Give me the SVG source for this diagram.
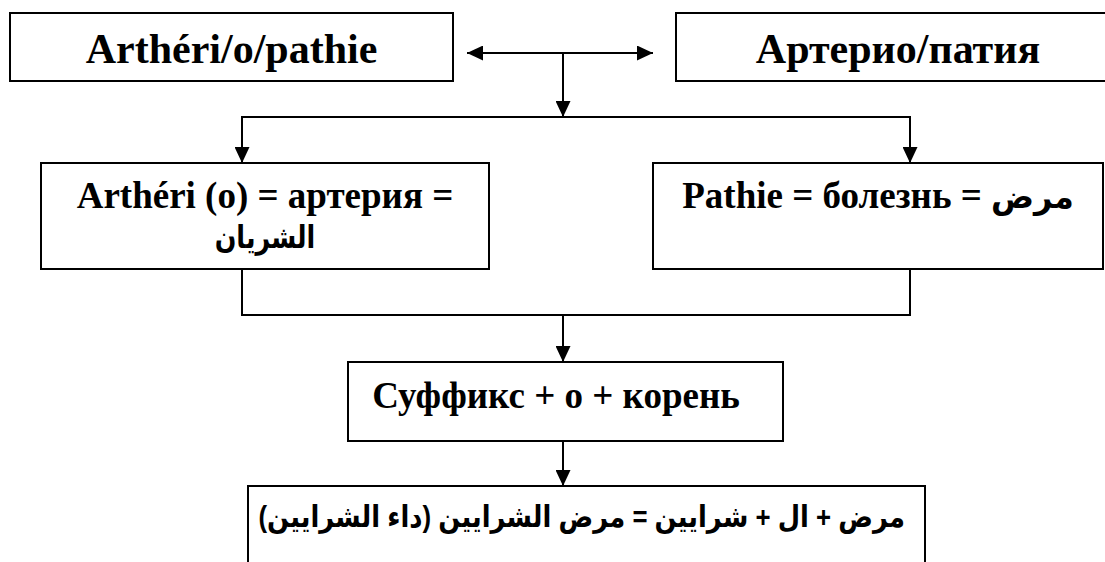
<svg xmlns="http://www.w3.org/2000/svg" width="1105" height="562" viewBox="0 0 1105 562">
  <style>
    .box { fill: #ffffff; stroke: #000000; stroke-width: 2; }
    .conn { fill: none; stroke: #000000; stroke-width: 2; }
    .t { font-family: "Liberation Serif", "DejaVu Sans", serif; font-weight: bold; fill: #000000; text-anchor: middle; }
    .ar { font-family: "Liberation Sans", "DejaVu Sans", sans-serif; font-weight: bold; fill: #000000; }
  </style>
  <defs>
    <marker id="ah" markerUnits="userSpaceOnUse" markerWidth="16" markerHeight="15" refX="16" refY="7.5" orient="auto-start-reverse">
      <path d="M0,0 L16,7.5 L0,15 z" fill="#000000"/>
    </marker>
  </defs>
  <rect width="1105" height="562" fill="#ffffff"/>

  <g id="connectors">
    <path class="conn" d="M467,53 H653" marker-start="url(#ah)" marker-end="url(#ah)"/>
    <path class="conn" d="M563,53 V117" marker-end="url(#ah)"/>
    <path class="conn" d="M563,117 H242 V163" marker-end="url(#ah)"/>
    <path class="conn" d="M563,117 H910 V163" marker-end="url(#ah)"/>
    <path class="conn" d="M242,269 V315 H910 V269"/>
    <path class="conn" d="M563,315 V362" marker-end="url(#ah)"/>
    <path class="conn" d="M563,441 V486" marker-end="url(#ah)"/>
  </g>

  <g id="node-arterio-fr">
    <rect class="box" x="10" y="13" width="443" height="68"/>
    <text class="t" x="231.5" y="63" font-size="42">Arthéri/o/pathie</text>
  </g>

  <g id="node-arterio-ru">
    <rect class="box" x="676" y="13" width="450" height="68"/>
    <text class="t" x="898" y="63" font-size="42">Артерио/патия</text>
  </g>

  <g id="node-artheri">
    <rect class="box" x="41" y="163" width="448" height="106"/>
    <text class="t" x="265" y="208" font-size="37">Arthéri (o) = артерия =</text>
    <text class="ar" transform="translate(265,248) scale(0.82,1)" x="0" y="0" font-size="31" text-anchor="middle" direction="rtl">الشريان</text>
  </g>

  <g id="node-pathie">
    <rect class="box" x="653" y="163" width="450" height="106"/>
    <text class="t" x="878" y="208" font-size="37">Pathie = болезнь = <tspan class="ar" font-size="32">مرض</tspan></text>
  </g>

  <g id="node-suffix">
    <rect class="box" x="348" y="362" width="435" height="79"/>
    <text class="t" x="556" y="408" font-size="37">Суффикс + о + корень</text>
  </g>

  <g id="node-result">
    <path class="box" d="M248,570 V486 H925 V570"/>
    <text class="ar" transform="translate(905,527) scale(0.86,1)" x="0" y="0" font-size="30" direction="rtl" text-anchor="start">مرض + ال + شرايين = مرض الشرايين (داء الشرايين)</text>
  </g>
</svg>
